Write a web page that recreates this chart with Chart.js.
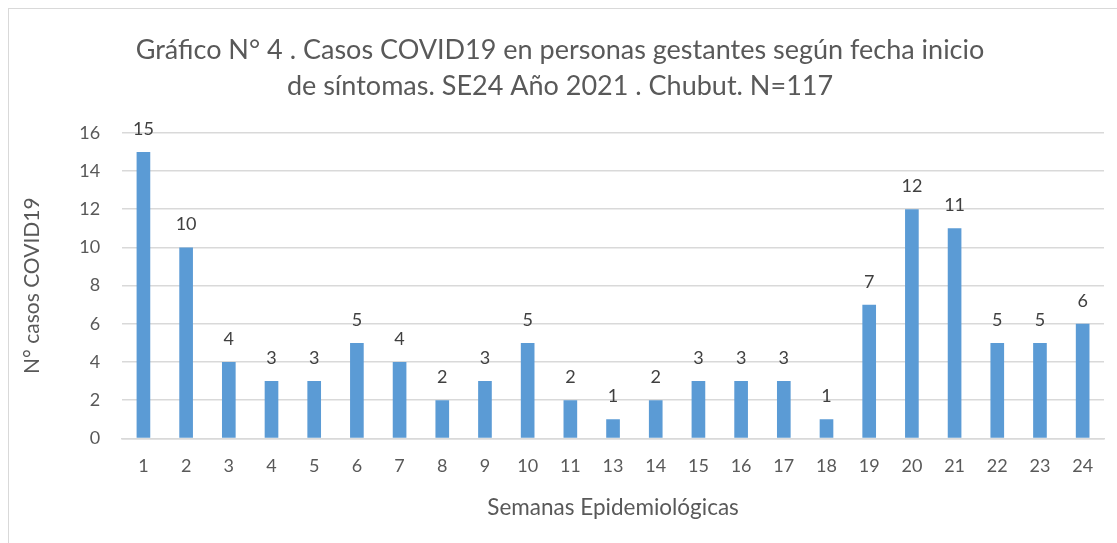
<!DOCTYPE html>
<html><head><meta charset="utf-8">
<script src="https://cdn.jsdelivr.net/npm/chart.js@4.4.1/dist/chart.umd.min.js"></script>
<style>
html,body{margin:0;padding:0;background:#fff;}
#frame{position:absolute;left:8px;top:8px;width:1109px;height:535px;border-left:1.5px solid #d9d9d9;border-top:1.5px solid #d9d9d9;}
#wrap{position:absolute;left:0;top:0;width:1117px;height:543px;}
</style></head>
<body>
<div id="frame"></div>
<div id="wrap"><canvas id="c" width="1117" height="543"></canvas></div>
<script>
const categories = ["1","2","3","4","5","6","7","8","9","10","11","13","14","15","16","17","18","19","20","21","22","23","24"];
const casos = [15,10,4,3,3,5,4,2,3,5,2,1,2,3,3,3,1,7,12,11,5,5,6];
const titleLines = ["Gráfico N° 4 . Casos COVID19 en personas gestantes según fecha inicio","de síntomas. SE24 Año 2021 . Chubut. N=117"];
const yTitle = "N° casos COVID19";
const xTitle = "Semanas Epidemiológicas";

const FONT = "Lato, 'Open Sans', sans-serif";

const labelPlugin = {
  id:'barLabels',
  afterDatasetsDraw(chart){
    const ctx = chart.ctx;
    const meta = chart.getDatasetMeta(0);
    ctx.save();
    ctx.font = "18px " + FONT;
    ctx.fillStyle = "#404040";
    ctx.textAlign = "center";
    ctx.textBaseline = "alphabetic";
    meta.data.forEach((bar,i)=>{
      ctx.fillText(String(chart.data.datasets[0].data[i]), bar.x, bar.y - 17);
    });
    ctx.restore();
  }
};

new Chart(document.getElementById('c'), {
  type:'bar',
  data:{labels:categories, datasets:[{data:casos, backgroundColor:'#5b9bd5', barPercentage:1, categoryPercentage:0.32}]},
  options:{
    responsive:false, animation:false,
    layout:{padding:{left:16,right:13,top:32,bottom:22}},
    plugins:{
      legend:{display:false}, tooltip:{enabled:false},
      title:{display:true, text:titleLines, color:'#595959', font:{family:FONT,size:27,weight:'normal',lineHeight:1.33}, padding:{top:0,bottom:29}}
    },
    scales:{
      x:{
        grid:{display:false, drawTicks:false},
        border:{display:true, color:'#d9d9d9', width:1.5},
        ticks:{color:'#595959', font:{family:FONT,size:18}, padding:17, maxRotation:0},
        title:{display:true, text:xTitle, color:'#595959', font:{family:FONT,size:22.5}, padding:{top:0,bottom:0}}
      },
      y:{
        min:0, max:16,
        grid:{color:'#d9d9d9', lineWidth:1.5, drawTicks:false},
        border:{display:false},
        ticks:{stepSize:2, color:'#595959', font:{family:FONT,size:18}, padding:22},
        title:{display:true, text:yTitle, color:'#595959', font:{family:FONT,size:21}, padding:{bottom:12}}
      }
    }
  },
  plugins:[labelPlugin]
});
</script>
</body></html>
